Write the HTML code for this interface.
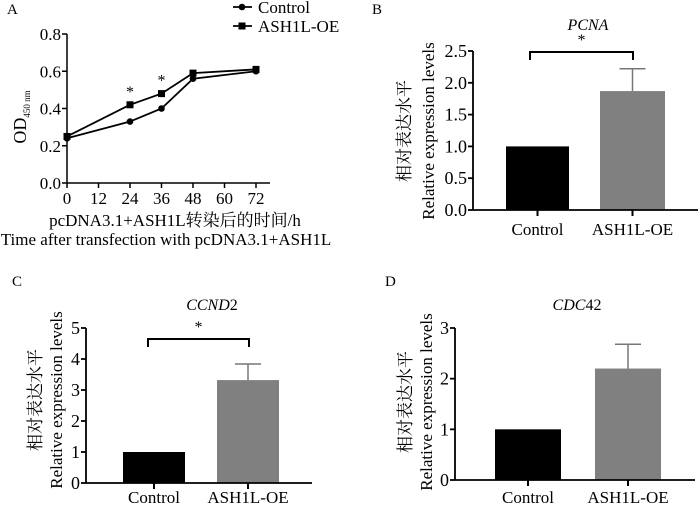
<!DOCTYPE html>
<html><head><meta charset="utf-8"><style>
body{margin:0;background:#fff;}
svg{display:block;font-family:"Liberation Serif","Noto Serif CJK SC",serif;}
</style></head><body>
<svg id="s" width="700" height="508" xmlns="http://www.w3.org/2000/svg"></svg>
<script>
// Panel A data
const hours = [0, 24, 36, 48, 72];
const controlOD = [0.24, 0.33, 0.40, 0.56, 0.60];
const oeOD = [0.25, 0.42, 0.48, 0.59, 0.61];
const aXTicks = [0, 12, 24, 36, 48, 60, 72];
const aYTicks = ["0.0", "0.2", "0.4", "0.6", "0.8"];
const aStarHours = [24, 36];
// Bar panels data
const groups = ["Control", "ASH1L-OE"];
const pcnaMeans = [1.0, 1.87];
const pcnaErr = [0, 0.35];
const pcnaTicks = ["0.0", "0.5", "1.0", "1.5", "2.0", "2.5"];
const ccndMeans = [1.0, 3.32];
const ccndErr = [0, 0.52];
const ccndTicks = ["0", "1", "2", "3", "4", "5"];
const cdcMeans = [1.0, 2.2];
const cdcErr = [0, 0.48];
const cdcTicks = ["0", "1", "2", "3"];

const NS = "http://www.w3.org/2000/svg";
const svg = document.getElementById('s');
function mk(tag, attrs, parent, text){
  const e = document.createElementNS(NS, tag);
  for (const k in attrs) e.setAttribute(k, attrs[k]);
  if (text !== undefined) e.textContent = text;
  (parent || svg).appendChild(e);
  return e;
}
function line(x1,y1,x2,y2,w,p){return mk('line',{x1,y1,x2,y2,stroke:'#000','stroke-width':w||1.5},p);}

// ---------- Panel A ----------
const gA = mk('g', {});


const ax0 = 67, ax1 = 256, ay0 = 183, ay1 = 34;
const xA = h => ax0 + (h - 0) / 72 * (ax1 - ax0);
const yA = v => ay0 - v / 0.8 * (ay0 - ay1);
let t = mk('text', {x: 7, y: 14, 'font-size': 15}, gA, 'A');
 
line(ax0, ay1, ax0, ay0, 1.5, gA);
line(ax0, ay0, 270, ay0, 1.5, gA);
aYTicks.forEach(l => {
  const y = yA(parseFloat(l));
  line(ax0 - 5, y, ax0, y, 1.5, gA);
  const e = mk('text', {x: ax0 - 6, y: y + 6, 'font-size': 17, 'text-anchor': 'end'}, gA, l);
   
});
aXTicks.forEach(h => {
  const x = xA(h);
  line(x, ay0, x, ay0 + 5, 1.5, gA);
  const e = mk('text', {x: x, y: ay0 + 21, 'font-size': 17, 'text-anchor': 'middle'}, gA, String(h));
   
});
t = mk('text', {x: 0, y: 0, 'font-size': 18, transform: 'translate(26,117) rotate(-90)', 'text-anchor': 'middle'}, gA);
 
mk('tspan', {}, t, 'OD');
mk('tspan', {'font-size': 9, dy: 4}, t, '450 nm');
t = mk('text', {x: 175, y: 226, 'font-size': 17, 'text-anchor': 'middle'}, gA, 'pcDNA3.1+ASH1L转染后的时间/h');
 
t = mk('text', {x: 166, y: 245, 'font-size': 17, 'text-anchor': 'middle'}, gA, 'Time after transfection with pcDNA3.1+ASH1L');
 
function series(vals, marker, name){
  const pts = hours.map((h, i) => xA(h) + ',' + yA(vals[i])).join(' ');
  const pl = mk('polyline', {points: pts, fill: 'none', stroke: '#000', 'stroke-width': 1.8}, gA);
   
  hours.forEach((h, i) => {
    let m;
    if (marker === 'c') m = mk('circle', {cx: xA(h), cy: yA(vals[i]), r: 3.3, fill: '#000'}, gA);
    else m = mk('rect', {x: xA(h) - 3.5, y: yA(vals[i]) - 3.5, width: 7, height: 7, fill: '#000'}, gA);
     
  });
}
series(controlOD, 'c', 'control');
series(oeOD, 's', 'ash1l-oe');
aStarHours.forEach(h => {
  const i = hours.indexOf(h);
  const e = mk('text', {x: xA(h), y: yA(oeOD[i]) - 8, 'font-size': 16, 'text-anchor': 'middle'}, gA, '*');
   
});
// legend
let lg = mk('g', {}, gA);
 
line(233, 7, 252, 7, 1.8, lg); mk('circle', {cx: 242, cy: 7, r: 3.3, fill: '#000'}, lg);
mk('text', {x: 258, y: 13, 'font-size': 17}, lg, 'Control');
lg = mk('g', {}, gA);
 
line(233, 26, 252, 26, 1.8, lg); mk('rect', {x: 238.5, y: 22.5, width: 7, height: 7, fill: '#000'}, lg);
mk('text', {x: 258, y: 32, 'font-size': 17}, lg, 'ASH1L-OE');

// ---------- Bar panels ----------
function barPanel(o){
  const g = mk('g', {});
  
  
  const maxV = parseFloat(o.ticks[o.ticks.length - 1]);
  const y = v => o.y0 - v / maxV * (o.y0 - o.y1);
  let e = mk('text', {x: o.lx, y: o.ly, 'font-size': 15}, g, o.letter);
   
  e = mk('text', {x: o.tx, y: o.ty, 'font-size': 16, 'font-style': 'italic', 'text-anchor': 'middle'}, g);
   
  mk('tspan', {}, e, o.title);
  if (o.titleNum) mk('tspan', {'font-style': 'normal'}, e, o.titleNum);
  o.means.forEach((v, i) => {
    const x0 = o.bars[i][0], x1 = o.bars[i][1], cx = (x0 + x1) / 2;
    if (o.err[i] > 0) {
      const ev = mk('g', {}, g);
       
      mk('line', {x1: cx, y1: y(v), x2: cx, y2: y(v + o.err[i]), stroke: '#777', 'stroke-width': 1.5}, ev);
      mk('line', {x1: cx - 13, y1: y(v + o.err[i]), x2: cx + 13, y2: y(v + o.err[i]), stroke: '#777', 'stroke-width': 1.5}, ev);
    }
    const r = mk('rect', {x: x0, y: y(v), width: x1 - x0, height: o.y0 - y(v), fill: i ? '#808080' : '#000'}, g);
    
    
    line(cx, o.y0, cx, o.y0 + 6, 2, g);
    const l = mk('text', {x: cx, y: o.y0 + o.labDy, 'font-size': 17, 'text-anchor': 'middle'}, g, groups[i]);
     
  });
  line(o.ax, o.y1, o.ax, o.y0, 1.8, g);
  line(o.ax, o.y0, o.axEnd, o.y0, 1.8, g);
  o.ticks.forEach(tk => {
    const yy = y(parseFloat(tk));
    line(o.ax - 5, yy, o.ax, yy, 1.8, g);
    const l = mk('text', {x: o.ax - 6, y: yy + 6, 'font-size': 18, 'text-anchor': 'end'}, g, tk);
     
  });
  e = mk('text', {x: 0, y: 0, 'font-size': 17, 'text-anchor': 'middle', transform: `translate(${o.ycn},${o.ymid}) rotate(-90)`}, g, '相对表达水平');
   
  e = mk('text', {x: 0, y: 0, 'font-size': 17, 'text-anchor': 'middle', transform: `translate(${o.yen},${o.ymid}) rotate(-90)`}, g, 'Relative expression levels');
   
  if (o.bracket) {
    const b = mk('g', {}, g);
     
    const [bx0, bx1, by] = o.bracket;
    mk('polyline', {points: `${bx0},${by + 8} ${bx0},${by} ${bx1},${by} ${bx1},${by + 8}`, fill: 'none', stroke: '#000', 'stroke-width': 2}, b);
    mk('text', {x: (bx0 + bx1) / 2, y: by - 7, 'font-size': 16, 'text-anchor': 'middle'}, b, '*');
  }
}
barPanel({name: 'panel-b-pcna-chart', letter: 'B', lx: 372, ly: 14, title: 'PCNA', tx: 588, ty: 30,
  ax: 473, axEnd: 698, y0: 210, y1: 51, ticks: pcnaTicks, means: pcnaMeans, err: pcnaErr, labDy: 25,
  bars: [[506, 569], [600, 665]], ycn: 410, yen: 434, ymid: 131, bracket: [530, 633, 52]});
barPanel({name: 'panel-c-ccnd2-chart', letter: 'C', lx: 12, ly: 286, title: 'CCND', titleNum: '2', tx: 212, ty: 310,
  ax: 86, axEnd: 312, y0: 483, y1: 328, ticks: ccndTicks, means: ccndMeans, err: ccndErr, labDy: 20,
  bars: [[123, 185], [217, 279]], ycn: 41, yen: 62, ymid: 400, bracket: [148, 249, 339]});
barPanel({name: 'panel-d-cdc42-chart', letter: 'D', lx: 385, ly: 286, title: 'CDC', titleNum: '42', tx: 577, ty: 310,
  ax: 455, axEnd: 695, y0: 480, y1: 328, ticks: cdcTicks, means: cdcMeans, err: cdcErr, labDy: 23,
  bars: [[495, 561], [595, 661]], ycn: 411, yen: 432, ymid: 402});
</script>
</body></html>
